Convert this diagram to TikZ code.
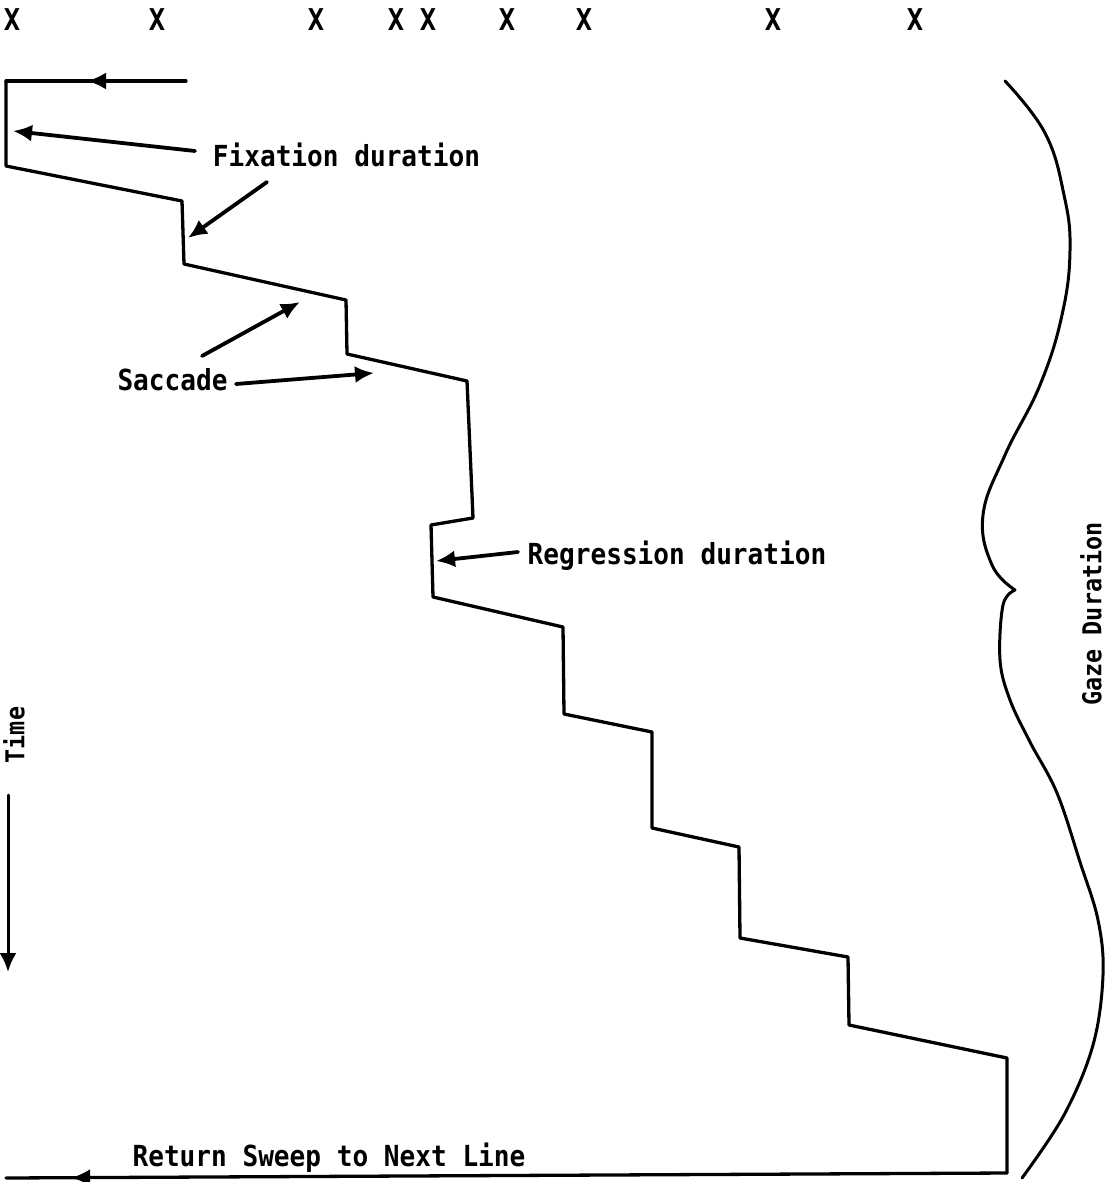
\documentclass[tikz,border=0pt]{standalone}
\usepackage{fontspec}
\setmainfont{DejaVu Sans Mono}[FakeStretch=0.9]
\usetikzlibrary{arrows.meta,decorations.markings}
\begin{document}
\begin{tikzpicture}[x=1pt,y=-1pt, line join=round, line cap=round,
  trace/.style={line width=3.3pt},
  pointer/.style={line width=3.8pt,-{Latex[length=19pt,width=17pt]}},
  lbl/.style={font=\fontsize{29}{34}\selectfont\bfseries, inner sep=0pt, anchor=base},
  vlbl/.style={font=\fontsize{26}{30}\selectfont\bfseries, inner sep=0pt, rotate=90},
  xmark/.style={font=\fontsize{30}{34}\selectfont\bfseries, inner sep=0pt},
  brace/.style={line width=3pt},
  midarrow/.style={postaction=decorate, decoration={markings, mark=at position #1 with {\arrow{Latex[length=19pt,width=17pt]}}}}
]
\useasboundingbox (0,0) rectangle (1108,1182);

% fixation marks
\foreach \xx [count=\i] in {12,157,316,396,428,507,584,773,915}
  \node[xmark] (x\i) at (\xx,20) {X};

% staircase corners
\coordinate (p0) at (186,81);
\coordinate (p1) at (6,81);
\coordinate (p2) at (6,166);
\coordinate (p3) at (182,201);
\coordinate (p4) at (184,264);
\coordinate (p5) at (346,300);
\coordinate (p6) at (347,354);
\coordinate (p7) at (467,381);
\coordinate (p8) at (473,518);
\coordinate (p9) at (431,525);
\coordinate (p10) at (433,597);
\coordinate (p11) at (563,627);
\coordinate (p12) at (564,714);
\coordinate (p13) at (652,732);
\coordinate (p14) at (652,828);
\coordinate (p15) at (739,847);
\coordinate (p16) at (740,938);
\coordinate (p17) at (848,957);
\coordinate (p18) at (849,1025);
\coordinate (p19) at (1007,1058);
\coordinate (p20) at (1007,1173);
\coordinate (p21) at (6,1178);

\draw[trace, midarrow=0.55] (p0) -- (p1);
\draw[trace] (p1) -- (p2) -- (p3) -- (p4) -- (p5) -- (p6) -- (p7) -- (p8)
  -- (p9) -- (p10) -- (p11) -- (p12) -- (p13) -- (p14) -- (p15) -- (p16)
  -- (p17) -- (p18) -- (p19) -- (p20);
\draw[trace, midarrow=0.935] (p20) -- (p21);

% labels
\node[lbl] (fix) at (346.5,167) {Fixation duration};
\node[lbl] (sac) at (172.5,390) {Saccade};
\node[lbl] (reg) at (677,564) {Regression duration};
\node[lbl] (ret) at (329,1166) {Return Sweep to Next Line};
\node[vlbl] (time) at (14,735) {Time};
\node[vlbl] (gaze) at (1091,614) {Gaze Duration};

% pointer arrows
\coordinate (a1s) at (195,151);  \coordinate (a1t) at (13,131);
\coordinate (a2s) at (267,182);  \coordinate (a2t) at (188,238);
\coordinate (a3s) at (202,356);  \coordinate (a3t) at (300,302);
\coordinate (a4s) at (236,384);  \coordinate (a4t) at (374,373);
\coordinate (a5s) at (518,552);  \coordinate (a5t) at (436,561);
\coordinate (ts) at (8,795);     \coordinate (tt) at (8,972);
\draw[pointer] (a1s) -- (a1t);
\draw[pointer] (a2s) -- (a2t);
\draw[pointer] (a3s) -- (a3t);
\draw[pointer] (a4s) -- (a4t);
\draw[pointer] (a5s) -- (a5t);
\draw[pointer, line width=3pt] (ts) -- (tt);

% gaze duration brace
\coordinate (cusp) at (1015,590);
\draw[brace] plot[smooth, tension=0.7] coordinates {(1005,81) (1045,133) (1064,195) (1070,250) (1062,315) (1040,385) (1005,455) (983,515) (992,565) (1015,590)};
\draw[brace] plot[smooth, tension=0.6] coordinates {(1015,590) (1003,605) (1000,660) (1010,700) (1030,742) (1057,793) (1080,862) (1098,920) (1103,975) (1093,1045) (1064,1115) (1022,1178)};
\end{tikzpicture}
\end{document}
